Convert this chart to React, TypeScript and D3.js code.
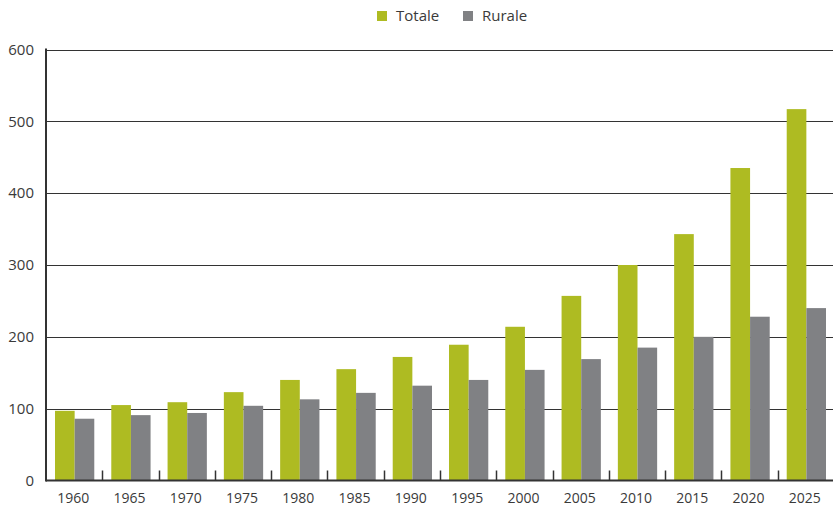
import React, { useEffect, useRef } from 'react';
import * as d3 from 'd3';

const years = ['1960', '1965', '1970', '1975', '1980', '1985', '1990', '1995', '2000', '2005', '2010', '2015', '2020', '2025'];
const totale = [97, 105, 109, 123, 140, 155, 172, 189, 214, 257, 300, 343, 435, 517];
const rurale = [86, 91, 94, 104, 113, 122, 132, 140, 154, 169, 185, 200, 228, 240];
const yTicks = [0, 100, 200, 300, 400, 500, 600];
const seriesNames = ['Totale', 'Rurale'];
const seriesColors = ['#aebb22', '#808184'];

const W = 833;
const H = 509;

const App: React.FC = () => {
  const svgRef = useRef<SVGSVGElement>(null);

  useEffect(() => {
    if (!svgRef.current) return;
    const svg = d3.select(svgRef.current);
    svg.selectAll('*').remove();

    const left = 46;
    const right = 834;
    const top = 49.5;
    const bottom = 480.5;
    const font = "'Open Sans', 'Noto Sans', sans-serif";

    const x = d3.scaleBand<string>().domain(years).range([left, right]).paddingInner(0).paddingOuter(0);
    const y = d3.scaleLinear().domain([0, 600]).range([bottom, top]);
    const inner = d3.scaleBand<string>().domain(seriesNames).range([9, x.bandwidth() - 8]);

    // gridlines
    svg.append('g')
      .selectAll('line')
      .data(yTicks.filter(t => t > 0))
      .enter()
      .append('line')
      .attr('x1', left)
      .attr('x2', W)
      .attr('y1', d => Math.round(y(d)) + 0.5)
      .attr('y2', d => Math.round(y(d)) + 0.5)
      .attr('stroke', '#333')
      .attr('stroke-width', 1.2);

    // bars
    const rows = years.map((yr, i) => ({ yr, vals: [totale[i], rurale[i]] }));
    const groups = svg.append('g')
      .selectAll('g')
      .data(rows)
      .enter()
      .append('g')
      .attr('transform', d => `translate(${x(d.yr)},0)`);

    groups.selectAll('rect')
      .data(d => d.vals.map((v, j) => ({ v, j })))
      .enter()
      .append('rect')
      .attr('x', d => inner(seriesNames[d.j]) as number)
      .attr('width', inner.bandwidth())
      .attr('y', d => y(d.v))
      .attr('height', d => bottom - y(d.v))
      .attr('fill', d => seriesColors[d.j]);

    // axes lines
    svg.append('line')
      .attr('x1', left).attr('x2', left)
      .attr('y1', top - 1).attr('y2', bottom + 1)
      .attr('stroke', '#333').attr('stroke-width', 2);
    svg.append('line')
      .attr('x1', left).attr('x2', W)
      .attr('y1', bottom).attr('y2', bottom)
      .attr('stroke', '#333').attr('stroke-width', 2);

    // x tick marks at band boundaries
    const bounds = years.map(yr => x(yr) as number).slice(1);
    svg.append('g')
      .selectAll('line')
      .data(bounds)
      .enter()
      .append('line')
      .attr('x1', d => Math.round(d) + 0.5)
      .attr('x2', d => Math.round(d) + 0.5)
      .attr('y1', bottom - 10)
      .attr('y2', bottom)
      .attr('stroke', '#333')
      .attr('stroke-width', 1.5);

    // y labels
    svg.append('g')
      .selectAll('text')
      .data(yTicks)
      .enter()
      .append('text')
      .attr('x', 34)
      .attr('y', d => y(d))
      .attr('dy', '0.35em')
      .attr('text-anchor', 'end')
      .style('font-family', font)
      .style('font-size', '15px')
      .style('fill', '#3a3a3a')
      .text(d => d);

    // x labels
    svg.append('g')
      .selectAll('text')
      .data(years)
      .enter()
      .append('text')
      .attr('x', d => (x(d) as number) + x.bandwidth() / 2 - 1)
      .attr('y', 503)
      .attr('text-anchor', 'middle')
      .style('font-family', font)
      .style('font-size', '14px')
      .style('fill', '#3a3a3a')
      .text(d => d);

    // legend
    const legendX = [377, 463];
    const lg = svg.append('g')
      .selectAll('g')
      .data(seriesNames)
      .enter()
      .append('g')
      .attr('transform', (_d, i) => `translate(${legendX[i]},11)`);
    lg.append('rect')
      .attr('width', 10)
      .attr('height', 10)
      .attr('fill', (_d, i) => seriesColors[i]);
    lg.append('text')
      .attr('x', 19)
      .attr('y', 5)
      .attr('dy', '0.35em')
      .style('font-family', font)
      .style('font-size', '15px')
      .style('fill', '#3a3a3a')
      .text(d => d);
  }, []);

  return (
    <svg
      ref={svgRef}
      width={W}
      height={H}
      style={{ position: 'absolute', left: 0, top: 0, display: 'block', background: '#fff' }}
    ></svg>
  );
};

export default App;
